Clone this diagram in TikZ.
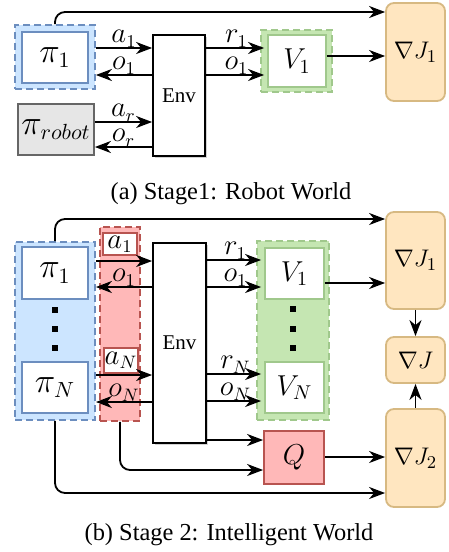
\documentclass[tikz,border=0pt]{standalone}
\usepackage{fontspec}
\setmainfont{Liberation Serif}
\usetikzlibrary{arrows.meta,shadows}
\definecolor{bfill}{RGB}{204,229,255}
\definecolor{bdraw}{RGB}{108,142,191}
\definecolor{gfill}{RGB}{197,230,178}
\definecolor{gdraw}{RGB}{160,200,140}
\definecolor{rfill}{RGB}{255,184,184}
\definecolor{rdraw}{RGB}{184,84,80}
\definecolor{ofill}{RGB}{255,230,192}
\definecolor{odraw}{RGB}{215,185,130}
\definecolor{grfill}{RGB}{230,230,230}
\definecolor{grdraw}{RGB}{102,102,102}
\begin{document}
\begin{tikzpicture}[x=0.5pt,y=-0.5pt,
  font=\fontsize{12.2}{14}\selectfont,
  arr/.style={draw, line width=0.9pt, -{Stealth[length=8pt,width=6pt,inset=2.5pt]}},
  lab/.style={above, inner sep=0pt, font=\fontsize{13.5}{15}\selectfont},
  pif/.style={font=\fontsize{16}{18}\selectfont},
  vf/.style={font=\fontsize{14}{16}\selectfont},
  grp/.style={rectangle, inner sep=0pt, line width=0.9pt, dash pattern=on 3.5pt off 2pt},
  bgrp/.style={grp, fill=bfill, draw=bdraw},
  ggrp/.style={grp, fill=gfill, draw=gdraw},
  rgrp/.style={grp, fill=rfill, draw=rdraw},
  bbox/.style={rectangle, inner sep=0pt, line width=0.9pt, draw=bdraw, fill=white, pif},
  vbox/.style={rectangle, inner sep=0pt, line width=0.9pt, draw=gdraw, fill=white, vf},
  gbox/.style={rectangle, inner sep=0pt, line width=0.9pt, draw=grdraw, fill=grfill, pif},
  qbox/.style={rectangle, inner sep=0pt, line width=0.9pt, draw=rdraw, fill=rfill, vf},
  rlab/.style={rectangle, inner sep=0pt, line width=0.7pt, draw=rdraw, fill=white, font=\fontsize{13.5}{15}\selectfont},
  envbox/.style={rectangle, inner sep=0pt, line width=0.9pt, draw=black, fill=white,
    font=\fontsize{10.5}{12}\selectfont,
    drop shadow={shadow xshift=1.2pt, shadow yshift=-1.2pt, opacity=0.35}},
  obox/.style={rectangle, rounded corners=4pt, inner sep=0pt, line width=0.9pt, draw=odraw, fill=ofill},
  dotn/.style={rectangle, fill=black, minimum size=3pt, inner sep=0pt},
  captxt/.style={inner sep=0pt}
]
\useasboundingbox (0,0) rectangle (449,552);

% ---------------- (a) ----------------
\node[bgrp, minimum width=40pt, minimum height=32pt] (blueA) at (55,57) {};
\node[bbox, minimum width=33pt, minimum height=25.5pt] (piA) at (55,57.5) {$\pi_1$};
\node[gbox, minimum width=38pt, minimum height=25.5pt] (robot) at (56,129.5) {$\pi_{robot}$};
\node[envbox, minimum width=26pt, minimum height=60.5pt] (envA) at (179,95.5) {Env};
\node[ggrp, minimum width=35.5pt, minimum height=31pt] (greenA) at (296.5,61) {};
\node[vbox, minimum width=29pt, minimum height=26pt] (vA) at (297,61) {$V_1$};
\node[obox, minimum width=29.5pt, minimum height=49pt] (gjA) at (415.5,52) {$\nabla J_1$};

\draw[arr] (blueA.east |- 0,48) -- node[lab]{$a_1$} (envA.west |- 0,48);
\draw[arr] (envA.west |- 0,75) -- node[lab]{$o_1$} (blueA.east |- 0,75);
\draw[arr] (robot.east |- 0,122) -- node[lab]{$a_r$} (envA.west |- 0,122);
\draw[arr] (envA.west |- 0,147) -- node[lab]{$o_r$} (robot.east |- 0,147);
\draw[arr, shorten >=1.5pt] (envA.east |- 0,48) -- node[lab]{$r_1$} (vA.west |- 0,48);
\draw[arr, shorten >=1.5pt] (envA.east |- 0,75) -- node[lab]{$o_1$} (vA.west |- 0,75);
\draw[arr] (vA.east |- 0,56) -- (gjA.west |- 0,56);
\draw[arr, rounded corners=5pt] (blueA.north) |- (gjA.west |- 0,12);

\node[captxt] (capA) at (231,194) {(a) Stage1: Robot World};

% ---------------- (b) ----------------
\node[bgrp, minimum width=40pt, minimum height=89pt] (blueB) at (55,331) {};
\node[bbox, minimum width=33pt, minimum height=26pt] (pi1B) at (55,273) {$\pi_1$};
\node[bbox, minimum width=33pt, minimum height=25.5pt] (piNB) at (55,387.5) {$\pi_N$};
\node[dotn] (bd1) at (55,310) {};
\node[dotn] (bd2) at (55,329) {};
\node[dotn] (bd3) at (55,348) {};

\node[rgrp, minimum width=20pt, minimum height=97pt] (redB) at (120,324) {};
\node[rlab, minimum width=17pt, minimum height=11pt] (a1lab) at (120,244) {$a_1$};
\node[rlab, minimum width=17pt, minimum height=12.5pt] (aNlab) at (121,360.5) {$a_N$};

\node[envbox, minimum width=26.5pt, minimum height=100pt] (envB) at (179.5,343) {Env};

\node[ggrp, minimum width=36pt, minimum height=89.5pt] (greenB) at (293,330.5) {};
\node[vbox, minimum width=29.5pt, minimum height=25.5pt] (v1B) at (294.5,273.5) {$V_1$};
\node[vbox, minimum width=29.5pt, minimum height=25.5pt] (vNB) at (294.5,387.5) {$V_N$};
\node[dotn] (gd1) at (293,309) {};
\node[dotn] (gd2) at (293,329) {};
\node[dotn] (gd3) at (293,348) {};

\node[qbox, minimum width=30pt, minimum height=26.5pt] (Q) at (294,457.5) {$Q$};

\node[obox, minimum width=29.5pt, minimum height=48.5pt] (gj1B) at (415.5,260.5) {$\nabla J_1$};
\node[obox, minimum width=29.5pt, minimum height=23pt] (gjB) at (415.5,360) {$\nabla J$};
\node[obox, minimum width=29.5pt, minimum height=49pt] (gj2B) at (415.5,458) {$\nabla J_2$};

\draw[arr] (blueB.east |- 0,261) -- (envB.west |- 0,261);
\draw[arr] (envB.west |- 0,287) -- node[lab]{$o_1$} (blueB.east |- 0,287);
\draw[arr] (blueB.east |- 0,375) -- (envB.west |- 0,375);
\draw[arr] (envB.west |- 0,402) -- node[lab]{$o_N$} (blueB.east |- 0,402);

\draw[arr, shorten >=1.5pt] (envB.east |- 0,260) -- node[lab]{$r_1$} (v1B.west |- 0,260);
\draw[arr, shorten >=1.5pt] (envB.east |- 0,287) -- node[lab]{$o_1$} (v1B.west |- 0,287);
\draw[arr, shorten >=1.5pt] (envB.east |- 0,374) -- node[lab]{$r_N$} (vNB.west |- 0,374);
\draw[arr, shorten >=1.5pt] (envB.east |- 0,401) -- node[lab]{$o_N$} (vNB.west |- 0,401);

\draw[arr] (v1B.east |- 0,283) -- (gj1B.west |- 0,283);
\draw[arr] (envB.east |- 0,440) -- (Q.west |- 0,440);
\draw[arr, rounded corners=5pt] (redB.south) |- (Q.west |- 0,470);
\draw[arr] (Q.east |- 0,457) -- (gj2B.west |- 0,457);
\draw[arr, rounded corners=5pt] (blueB.south) |- (gj2B.west |- 0,493);
\draw[arr, rounded corners=5pt] (blueB.north) |- (gj1B.west |- 0,219);
\draw[arr] (gj1B.south) -- (gjB.north);
\draw[arr] (gj2B.north) -- (gjB.south);

\node[captxt] (capB) at (229,535) {(b) Stage 2: Intelligent World};
\end{tikzpicture}
\end{document}
